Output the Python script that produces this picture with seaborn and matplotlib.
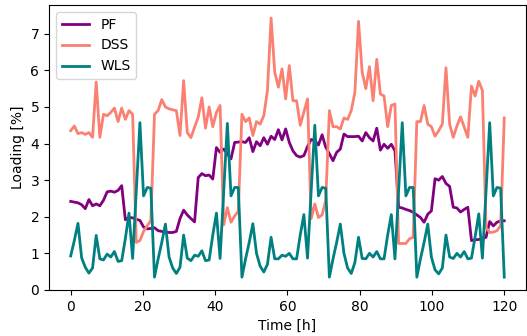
import numpy as np
import pandas as pd
import matplotlib
matplotlib.use("Agg")
import matplotlib.pyplot as plt
import seaborn as sns

# Hourly loading over five days (120 samples spread across 0..120 h)
pf = [
    2.42, 2.40, 2.38, 2.33, 2.22, 2.47, 2.30, 2.35, 2.30, 2.45, 2.68, 2.70,
    2.67, 2.72, 2.85, 1.92, 1.98, 1.97, 1.93, 1.90, 1.72, 1.67, 1.68, 1.70,
    1.62, 1.60, 1.58, 1.57, 1.57, 1.60, 1.95, 2.18, 2.05, 1.95, 1.86, 3.07,
    3.18, 3.12, 3.14, 3.03, 3.89, 3.76, 3.85, 3.72, 3.58, 4.03, 4.04, 4.05,
    4.03, 4.16, 3.78, 4.05, 3.94, 4.16, 3.98, 4.20, 4.11, 4.38, 4.10, 4.40,
    4.03, 3.80, 3.67, 3.63, 3.67, 3.92, 4.11, 4.08, 3.96, 4.24, 3.90, 3.72,
    3.53, 3.76, 3.85, 4.26, 4.19, 4.19, 4.19, 4.20, 4.07, 4.30, 4.16, 4.07,
    4.42, 3.82, 3.98, 3.87, 3.98, 3.80, 2.26, 2.24, 2.20, 2.17, 2.12, 2.05,
    1.98, 1.85, 2.07, 2.16, 3.04, 3.00, 3.10, 2.91, 2.83, 2.26, 2.24, 2.13,
    2.20, 2.26, 1.35, 1.37, 1.38, 1.40, 1.44, 1.87, 1.75, 1.85, 1.89, 1.89,
]

dss = [
    4.35, 4.48, 4.27, 4.30, 4.25, 4.30, 4.17, 5.68, 4.17, 4.80, 4.76, 4.85,
    4.97, 4.60, 4.97, 4.66, 4.90, 4.80, 1.30, 1.35, 1.60, 1.75, 1.90, 4.80,
    4.90, 5.20, 5.00, 4.95, 4.92, 4.90, 4.22, 5.72, 4.30, 4.16, 4.45, 4.72,
    5.25, 4.42, 5.00, 4.46, 4.85, 5.04, 1.78, 2.25, 1.85, 2.02, 2.15, 4.80,
    4.60, 4.70, 4.22, 4.60, 4.53, 4.76, 5.45, 7.43, 5.95, 5.54, 6.04, 5.22,
    6.13, 5.17, 5.17, 4.50, 4.86, 5.22, 1.95, 2.35, 1.98, 2.05, 2.45, 4.90,
    4.46, 4.46, 4.40, 4.70, 4.66, 4.90, 5.40, 7.34, 5.95, 5.50, 6.10, 5.17,
    6.30, 5.35, 5.30, 4.46, 5.04, 5.08, 1.27, 1.27, 1.27, 1.40, 1.44, 4.60,
    4.60, 5.04, 4.53, 4.46, 4.20, 4.35, 4.53, 6.07, 4.53, 4.17, 4.48, 4.73,
    4.45, 4.17, 5.57, 5.30, 5.70, 5.45, 1.71, 1.57, 1.58, 1.62, 1.75, 4.70,
]

wls = [
    0.93, 1.35, 1.82, 0.88, 0.62, 0.46, 0.60, 1.49, 0.85, 0.82, 0.98, 0.90,
    1.05, 0.78, 0.80, 1.40, 2.10, 0.86, 2.70, 4.57, 2.57, 2.80, 2.78, 0.35,
    0.85, 1.30, 1.80, 0.90, 0.60, 0.45, 0.62, 1.50, 0.87, 0.80, 0.95, 0.92,
    1.07, 0.80, 0.82, 1.50, 2.10, 0.86, 2.70, 4.55, 2.57, 2.80, 2.80, 0.35,
    0.85, 1.30, 1.81, 1.00, 0.65, 0.49, 0.70, 1.44, 0.85, 0.85, 0.95, 0.92,
    1.00, 0.85, 0.85, 1.50, 2.06, 0.87, 2.70, 4.50, 2.57, 2.80, 2.78, 0.35,
    0.85, 1.30, 1.80, 1.00, 0.60, 0.45, 0.75, 1.44, 0.86, 0.85, 1.00, 0.90,
    1.05, 0.85, 0.85, 1.50, 2.06, 0.85, 2.70, 4.57, 2.57, 2.80, 2.80, 0.35,
    0.85, 1.30, 1.80, 0.90, 0.55, 0.44, 0.60, 1.50, 0.90, 0.86, 1.00, 0.90,
    1.05, 0.85, 0.87, 1.45, 2.08, 0.87, 2.70, 4.57, 2.57, 2.80, 2.78, 0.35,
]

series_names = ["PF", "DSS", "WLS"]
series_colors = ["purple", "salmon", "teal"]

time_h = np.linspace(0, 120, len(pf))

df = pd.DataFrame({
    "Time": np.tile(time_h, 3),
    "Loading": np.concatenate([pf, dss, wls]),
    "Series": np.repeat(series_names, len(pf)),
})

fig = plt.figure(figsize=(5.27, 3.36), dpi=100)
ax = fig.add_axes([0.093, 0.137, 0.905, 0.848])

sns.lineplot(
    data=df, x="Time", y="Loading", hue="Series",
    palette=dict(zip(series_names, series_colors)),
    linewidth=2, ax=ax,
)

ax.set_ylim(bottom=0)
ax.set_xlabel("Time [h]")
ax.set_ylabel("Loading [%]")
sns.move_legend(ax, "upper left", title=None)

fig.savefig("out.png", dpi=100)
